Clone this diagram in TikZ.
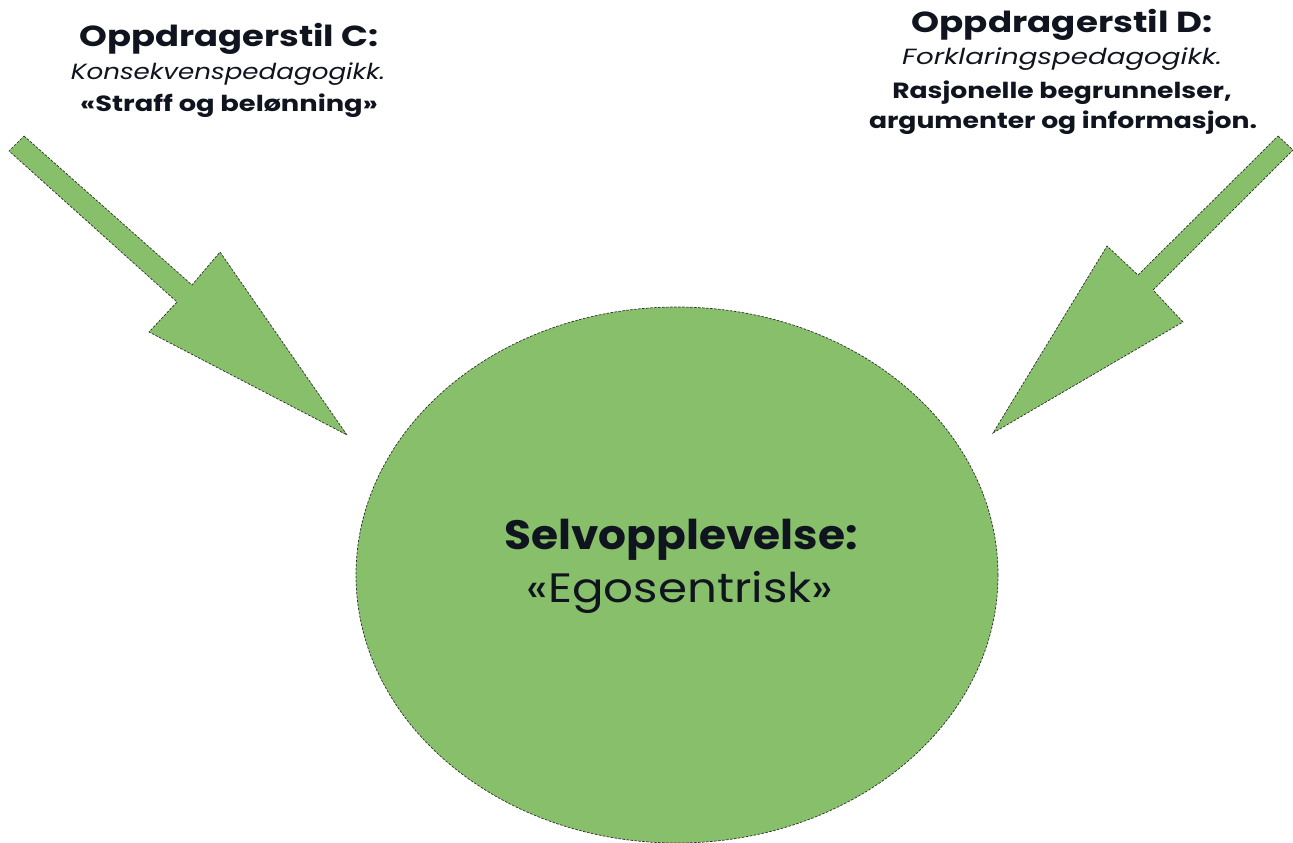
\documentclass[tikz,border=0pt]{standalone}
\usepackage{fontspec}
\setmainfont{Poppins}
\usetikzlibrary{shapes.geometric}
\definecolor{leaf}{RGB}{135,191,106}
\definecolor{edge}{RGB}{45,45,45}
\definecolor{ink}{RGB}{16,20,30}
\newcommand{\hstretch}[2]{\scalebox{#1}[1]{#2}}
\tikzset{
  shapefill/.style={fill=leaf, draw=edge, line width=0.7pt, dash pattern=on 2.5pt off 1.5pt, line join=miter},
  lbl/.style={anchor=base, inner sep=0pt, text=ink},
  ttl/.style={lbl, font=\fontsize{29}{32}\selectfont\bfseries},
  itl/.style={lbl, font=\fontsize{22}{24}\selectfont\itshape},
  bld/.style={lbl, font=\fontsize{22}{24}\selectfont\bfseries},
}
\begin{document}
\begin{tikzpicture}[x=1pt,y=-1pt]
\useasboundingbox (0,0) rectangle (1293,843);
% left arrow
\draw[shapefill] (24,136) -- (192,285) -- (220,252) -- (347,435) -- (149,332) -- (177,302) -- (9,151) -- cycle;
% right arrow
\draw[shapefill] (1278,136) -- (1293,150) -- (1153,290) -- (1183,322) -- (993,433) -- (1107,246) -- (1138,275) -- cycle;
% ellipse
\node[shapefill, ellipse, minimum width=642pt, minimum height=536pt, inner sep=0pt] (self) at (677,575) {};
\node[lbl, font=\fontsize{41}{48}\selectfont\bfseries] (s1) at (681,549) {\hstretch{1.07}{Selvopplevelse:}};
\node[lbl, font=\fontsize{41}{48}\selectfont] (s2) at (680,602) {\hstretch{1.14}{«Egosentrisk»}};
% left text
\node[ttl] (c1) at (229,47) {\hstretch{1.22}{Oppdragerstil C:}};
\node[itl] (c2) at (228,80) {\hstretch{1.19}{Konsekvenspedagogikk.}};
\node[bld] (c3) at (229,111) {\hstretch{1.24}{«Straff og belønning»}};
% right text
\node[ttl] (d1) at (1062,33) {\hstretch{1.23}{Oppdragerstil D:}};
\node[itl] (d2) at (1062,65) {\hstretch{1.26}{Forklaringspedagogikk.}};
\node[bld] (d3) at (1062,98) {\hstretch{1.21}{Rasjonelle begrunnelser,}};
\node[bld] (d4) at (1063,128) {\hstretch{1.21}{argumenter og informasjon.}};
\end{tikzpicture}
\end{document}
